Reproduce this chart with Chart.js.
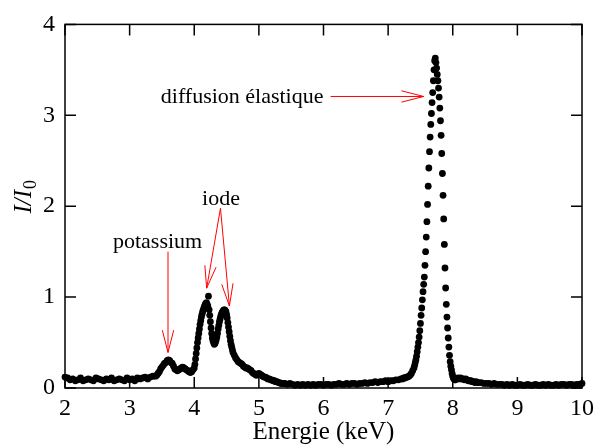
<!DOCTYPE html>
<html>
<head>
<meta charset="utf-8">
<title>Spectre de fluorescence</title>
<script src="https://cdn.jsdelivr.net/npm/chart.js"></script>
<style>
  html, body { margin: 0; padding: 0; background: #fff; }
  #graphe { width: 600px; height: 447px; }
</style>
</head>
<body>
<div id="graphe"><canvas id="spectre"></canvas></div>

<script>
  // Fond avant le pic du potassium
  const fondE = [2.00,2.04,2.08,2.12,2.16,2.20,2.24,2.28,2.32,2.36,
                 2.40,2.44,2.48,2.52,2.56,2.60,2.64,2.68,2.72,2.76,
                 2.80,2.84,2.88,2.92,2.96,3.00,3.04,3.08,3.12,3.16,
                 3.20,3.24,3.28,3.32,3.36];
  const fondI = [.12,.11,.09,.10,.08,.09,.11,.08,.09,.10,
                 .09,.08,.11,.10,.09,.08,.10,.09,.11,.08,
                 .09,.10,.09,.08,.11,.09,.10,.08,.11,.10,
                 .11,.12,.10,.12,.13];

  // Pic du potassium
  const potassiumE = [3.40,3.42,3.44,3.46,3.48,3.50,3.52,3.54,3.56,3.58,
                      3.60,3.62,3.64,3.66,3.68,3.70,3.72,3.74,3.76,3.78,
                      3.80,3.82,3.84,3.86,3.88,3.90,3.92,3.94,3.96,3.98];
  const potassiumI = [.13,.14,.16,.18,.21,.23,.25,.27,.28,.30,
                      .31,.30,.28,.27,.24,.21,.20,.19,.20,.21,
                      .22,.23,.22,.21,.20,.19,.18,.17,.18,.20];

  // Double pic de l'iode
  const iodeE = [4.00,4.01,4.02,4.03,4.04,4.05,4.06,4.07,4.08,4.09,
                 4.10,4.11,4.12,4.13,4.14,4.15,4.16,4.17,4.18,4.19,
                 4.20,4.21,4.22,4.23,4.24,4.25,4.26,4.27,4.28,4.29,
                 4.30,4.31,4.32,4.33,4.34,4.35,4.36,4.37,4.38,4.39,
                 4.40,4.41,4.42,4.43,4.44,4.45,4.46,4.47,4.48,4.49,
                 4.50,4.51,4.52,4.53,4.54,4.55,4.56,4.57,4.58,4.59,
                 4.60,4.62,4.64,4.66,4.68,4.70,4.72,4.74,4.76,4.78,
                 4.80,4.82,4.84,4.86,4.88,4.90,4.92,4.94,4.96,4.98,
                 5.00,5.02,5.04,5.06,5.08,5.10,5.12,5.14,5.16,5.18,
                 5.20,5.22,5.24,5.26,5.28,5.30,5.32,5.34,5.36,5.38];
  const iodeI = [.22,.26,.32,.38,.44,.50,.55,.60,.65,.70,
                 .74,.78,.81,.84,.86,.88,.90,.92,.93,.94,
                 .92,.90,1.01,.86,.80,.73,.66,.60,.55,.52,
                 .50,.48,.49,.51,.53,.56,.60,.65,.69,.73,
                 .76,.79,.81,.83,.84,.85,.86,.86,.85,.84,
                 .81,.77,.72,.67,.62,.57,.52,.48,.45,.42,
                 .39,.36,.33,.31,.29,.28,.27,.26,.24,.23,
                 .22,.22,.21,.20,.19,.17,.16,.15,.14,.15,
                 .16,.15,.14,.13,.12,.12,.11,.10,.10,.09,
                 .09,.08,.08,.07,.07,.06,.06,.05,.05,.05];

  // Fond entre l'iode et le pic élastique
  const milieuE = [5.40,5.44,5.48,5.52,5.56,5.60,5.64,5.68,5.72,5.76,
                   5.80,5.84,5.88,5.92,5.96,6.00,6.04,6.08,6.12,6.16,
                   6.20,6.24,6.28,6.32,6.36,6.40,6.44,6.48,6.52,6.56,
                   6.60,6.64,6.68,6.72,6.76,6.80,6.84,6.88,6.92,6.96,
                   7.00,7.04,7.08,7.12,7.16,7.20,7.22,7.24,7.26,7.28,
                   7.30,7.32,7.34,7.36,7.38];
  const milieuI = [.05,.04,.05,.04,.03,.04,.03,.04,.03,.04,
                   .03,.04,.03,.04,.04,.03,.04,.04,.03,.04,
                   .04,.05,.04,.04,.05,.04,.05,.05,.04,.05,
                   .05,.06,.05,.06,.06,.07,.06,.07,.07,.08,
                   .07,.08,.08,.09,.09,.10,.10,.11,.11,.12,
                   .12,.13,.14,.16,.19];

  // Pic de diffusion élastique
  const elastiqueE = [7.40,7.41,7.42,7.43,7.44,7.45,7.46,7.47,7.48,7.49,
                      7.50,7.51,7.52,7.53,7.54,7.55,7.56,7.57,7.58,7.59,
                      7.60,7.61,7.62,7.63,7.64,7.65,7.66,7.67,7.68,7.69,
                      7.70,7.71,7.72,7.73,7.74,7.75,7.76,7.77,7.78,7.79,
                      7.80,7.81,7.82,7.83,7.84,7.85,7.86,7.87,7.88,7.89,
                      7.90,7.91,7.92,7.93,7.94,7.95,7.96,7.97,7.98,7.99,
                      8.00,8.01,8.02,8.03,8.04];
  const elastiqueI = [.22,.25,.28,.31,.35,.40,.45,.50,.56,.63,
                      .71,.80,.88,.97,1.06,1.14,1.22,1.35,1.50,1.66,
                      1.83,2.02,2.22,2.42,2.60,2.76,2.90,3.02,3.14,3.25,
                      3.38,3.50,3.60,3.63,3.58,3.52,3.45,3.38,3.30,3.20,
                      3.08,2.94,2.78,2.58,2.36,2.12,1.86,1.58,1.32,1.10,
                      .92,.78,.66,.55,.45,.36,.29,.24,.20,.16,
                      .13,.11,.10,.09,.09];

  // Fond après le pic élastique
  const queueE = [8.06,8.08,8.10,8.12,8.14,8.16,8.18,8.20,8.22,8.24,
                  8.26,8.28,8.30,8.32,8.34,8.36,8.38,
                  8.40,8.44,8.48,8.52,8.56,8.60,8.64,8.68,8.72,8.76,
                  8.80,8.84,8.88,8.92,8.96,9.00,9.04,9.08,9.12,9.16,
                  9.20,9.24,9.28,9.32,9.36,9.40,9.44,9.48,9.52,9.56,
                  9.60,9.64,9.68,9.72,9.76,9.80,9.84,9.88,9.92,9.96,
                  10.00];
  const queueI = [.10,.11,.10,.11,.10,.10,.09,.10,.09,.08,
                  .08,.08,.07,.07,.06,.07,.06,
                  .06,.06,.05,.05,.05,.04,.05,.04,.04,.04,
                  .03,.04,.03,.04,.03,.03,.04,.03,.03,.04,
                  .03,.03,.04,.03,.03,.04,.03,.04,.03,.03,
                  .04,.03,.04,.04,.03,.04,.04,.03,.04,.04,
                  .05];

  // Graduations
  const ticksX = [2, 3, 4, 5, 6, 7, 8, 9, 10];
  const ticksY = [0, 1, 2, 3, 4];

  // Annotations (coordonnées en keV / I/I0)
  const annotations = [
    { texte: 'diffusion élastique', x: 6.00, y: 3.13, align: 'right',
      fleches: [[6.11, 3.207, 7.55, 3.207]] },
    { texte: 'iode', x: 4.414, y: 2.01, align: 'center',
      fleches: [[4.406, 1.978, 4.192, 1.098], [4.406, 1.978, 4.544, 0.902]] },
    { texte: 'potassium', x: 3.433, y: 1.543, align: 'center',
      fleches: [[3.594, 1.50, 3.594, 0.391]] }
  ];

  const police = '"Liberation Serif", "Times New Roman", serif';

  const energie = [].concat(fondE, potassiumE, iodeE, milieuE, elastiqueE, queueE);
  const intensite = [].concat(fondI, potassiumI, iodeI, milieuI, elastiqueI, queueI);
  const points = energie.map((e, i) => ({ x: e, y: intensite[i] }));

  // Cadre, graduations intérieures, titre vertical et flèches
  const cadrePlugin = {
    id: 'cadre',
    afterDatasetsDraw(chart) {
      const { ctx, chartArea: a, scales: { x, y } } = chart;
      const tl = 11;
      ctx.save();
      ctx.strokeStyle = '#000';
      ctx.lineWidth = 1.5;
      ctx.strokeRect(a.left, a.top, a.right - a.left, a.bottom - a.top);
      ctx.beginPath();
      ticksX.forEach(v => {
        const px = x.getPixelForValue(v);
        ctx.moveTo(px, a.bottom); ctx.lineTo(px, a.bottom - tl);
        ctx.moveTo(px, a.top); ctx.lineTo(px, a.top + tl);
      });
      ticksY.forEach(v => {
        const py = y.getPixelForValue(v);
        ctx.moveTo(a.left, py); ctx.lineTo(a.left + tl, py);
        ctx.moveTo(a.right, py); ctx.lineTo(a.right - tl, py);
      });
      ctx.stroke();
      ctx.restore();
    },
    afterDraw(chart) {
      const { ctx, chartArea: a, scales: { x, y } } = chart;
      ctx.save();

      // titre de l'axe vertical : I/I0
      ctx.translate(a.left - 34, (a.top + a.bottom) / 2 - 9);
      ctx.rotate(-Math.PI / 2);
      ctx.fillStyle = '#000';
      ctx.textBaseline = 'alphabetic';
      ctx.font = 'italic 25px ' + police;
      const t1 = 'I/I';
      const w1 = ctx.measureText(t1).width;
      ctx.font = '18px ' + police;
      const w2 = ctx.measureText('0').width;
      const x0 = -(w1 + w2) / 2;
      ctx.font = 'italic 25px ' + police;
      ctx.fillText(t1, x0, 0);
      ctx.font = '18px ' + police;
      ctx.fillText('0', x0 + w1 + 1, 5);
      ctx.restore();

      // annotations en rouge
      ctx.save();
      ctx.font = '22px ' + police;
      ctx.fillStyle = '#000';
      ctx.textBaseline = 'alphabetic';
      ctx.strokeStyle = '#ff0000';
      ctx.lineWidth = 1;
      annotations.forEach(an => {
        ctx.textAlign = an.align;
        ctx.fillText(an.texte, x.getPixelForValue(an.x), y.getPixelForValue(an.y));
        an.fleches.forEach(f => {
          const x1 = x.getPixelForValue(f[0]), y1 = y.getPixelForValue(f[1]);
          const x2 = x.getPixelForValue(f[2]), y2 = y.getPixelForValue(f[3]);
          const ang = Math.atan2(y2 - y1, x2 - x1);
          const L = 23, da = 0.25;
          ctx.beginPath();
          ctx.moveTo(x1, y1); ctx.lineTo(x2, y2);
          ctx.moveTo(x2 - L * Math.cos(ang - da), y2 - L * Math.sin(ang - da));
          ctx.lineTo(x2, y2);
          ctx.lineTo(x2 - L * Math.cos(ang + da), y2 - L * Math.sin(ang + da));
          ctx.stroke();
        });
      });
      ctx.restore();
    }
  };

  const ctxSpectre = document.getElementById('spectre').getContext('2d');
  new Chart(ctxSpectre, {
    type: 'scatter',
    data: {
      datasets: [{
        label: 'spectre',
        data: points,
        pointRadius: 3.4,
        pointHoverRadius: 3.4,
        pointBackgroundColor: '#000',
        pointBorderWidth: 0,
        showLine: false,
        clip: false
      }]
    },
    options: {
      responsive: true,
      maintainAspectRatio: false,
      animation: false,
      events: [],
      layout: { padding: { left: 0, right: 13, top: 20, bottom: 0 } },
      plugins: {
        legend: { display: false },
        tooltip: { enabled: false }
      },
      scales: {
        x: {
          type: 'linear',
          min: 2, max: 10,
          afterBuildTicks: s => { s.ticks = ticksX.map(v => ({ value: v })); },
          afterFit: s => { s.height = 59; },
          grid: { display: false, drawTicks: false },
          border: { display: false },
          ticks: { color: '#000', padding: 6, font: { family: police, size: 24 } },
          title: {
            display: true,
            text: 'Energie (keV)',
            color: '#000',
            padding: { top: 0, bottom: 0 },
            font: { family: police, size: 25 }
          }
        },
        y: {
          type: 'linear',
          min: 0, max: 4,
          afterBuildTicks: s => { s.ticks = ticksY.map(v => ({ value: v })); },
          afterFit: s => { s.width = 65; },
          grid: { display: false, drawTicks: false },
          border: { display: false },
          ticks: { color: '#000', padding: 10, font: { family: police, size: 24 } }
        }
      }
    },
    plugins: [cadrePlugin]
  });
</script>
</body>
</html>
